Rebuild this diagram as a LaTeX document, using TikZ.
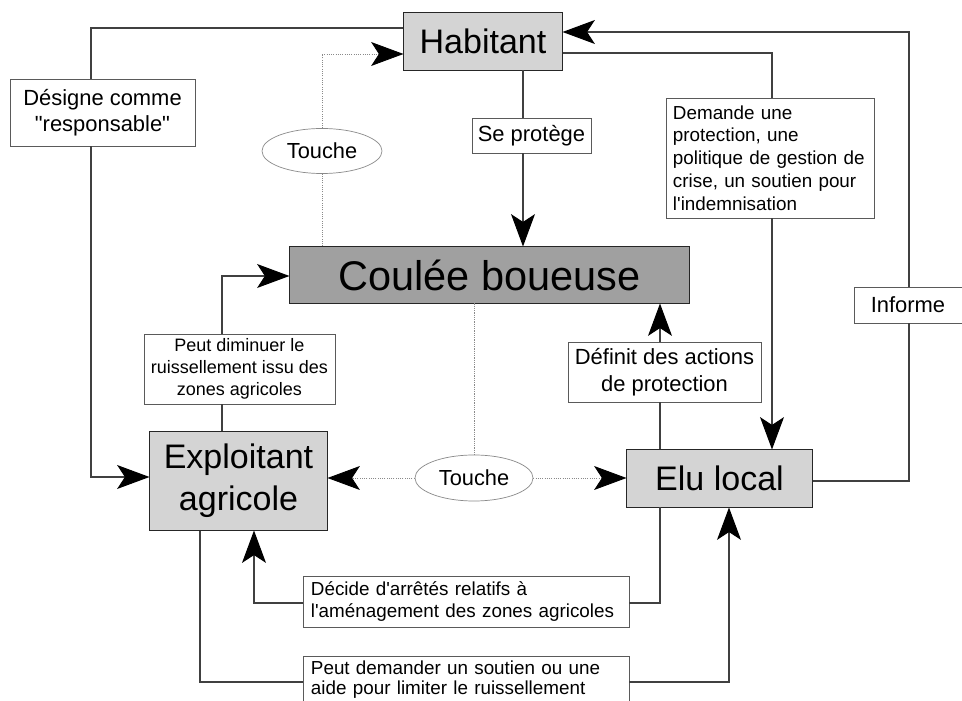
\documentclass[tikz,border=0pt]{standalone}
\usepackage{fontspec}
\newfontfamily\diagfont{Liberation Sans}
\usetikzlibrary{arrows.meta, shapes.geometric, positioning}
\definecolor{cActor}{HTML}{D4D4D4}
\definecolor{cHazard}{HTML}{A0A0A0}
\definecolor{cLine}{HTML}{404040}
\definecolor{cFrame}{HTML}{5A5A5A}
\definecolor{cDots}{HTML}{8A8A8A}
\tikzset{
  actor/.style={draw=black!85, fill=cActor, line width=0.7pt, inner sep=0pt,
    align=center, font=\diagfont\fontsize{24.2}{29.8}\selectfont},
  hazard/.style={actor, fill=cHazard, font=\diagfont\fontsize{29.5}{35}\selectfont},
  tagbox/.style={draw=cFrame, fill=white, line width=0.6pt, inner sep=0pt,
    align=center, font=\diagfont\fontsize{15.6}{18.9}\selectfont},
  notebox/.style={tagbox, align=left, inner xsep=0.175cm,
    font=\diagfont\fontsize{13.4}{16.2}\selectfont},
  contact/.style={ellipse, draw=cDots, fill=white, line width=0.5pt, inner sep=0pt,
    font=\diagfont\fontsize{15.5}{18}\selectfont},
  link/.style={draw=cLine, line width=0.75pt},
  flow/.style={link, -{Stealth[length=23pt, width=17pt, inset=5.5pt, color=black]}},
  touchlink/.style={draw=cDots, line width=0.6pt, dash pattern=on 0.8pt off 0.8pt},
  touchflow/.style={touchlink, -{Stealth[length=23pt, width=17pt, inset=5.5pt, color=black]}},
}

\begin{document}
\begin{tikzpicture}[x=0.025cm, y=-0.025cm]

  \path[use as bounding box, fill=white] (0,0) rectangle (962,701);

  % ----------------------------------------------------------------
  % Actors and hazard
  % ----------------------------------------------------------------
  \node[actor, minimum width=3.95cm, minimum height=1.425cm] (hab) at (483,41.5) {Habitant};
  \node[hazard, minimum width=9.975cm, minimum height=1.4cm] (coulee) at (489.5,275) {Coulée boueuse};
  \node[actor, minimum width=4.425cm, minimum height=2.45cm] (expl) at (238.5,481) {Exploitant\\agricole};
  \node[actor, minimum width=4.625cm, minimum height=1.425cm] (elu) at (719.5,478.5) {Elu local};

  % ----------------------------------------------------------------
  % Relation labels
  % ----------------------------------------------------------------
  \node[tagbox, minimum width=4.625cm, minimum height=1.675cm] (designe) at (102.5,112.5)
    {Désigne comme\\"responsable"};
  \node[tagbox, minimum width=2.975cm, minimum height=0.875cm] (seprotege) at (531.5,135.5) {Se protège};
  \node[notebox, text width=4.85cm, minimum height=3cm] (demande) at (770,158)
    {Demande une\\protection, une\\politique de gestion de\\crise, un soutien pour\\l'indemnisation};
  \node[tagbox, minimum width=2.7cm, minimum height=0.9cm] (informe) at (908,305) {Informe};
  \node[tagbox, minimum width=4.825cm, minimum height=1.5cm] (definit) at (664.5,372)
    {Définit des actions\\de protection};
  \node[tagbox, minimum width=4.775cm, minimum height=1.75cm,
    font=\diagfont\fontsize{12.8}{15.4}\selectfont] (diminuer) at (239.5,369)
    {Peut diminuer le\\ruissellement issu des\\zones agricoles};
  \node[notebox, inner xsep=0.2cm, text width=7.75cm, minimum height=1.275cm] (decide) at (466,601.5)
    {Décide d'arrêtés relatifs à\\l'aménagement des zones agricoles};
  \node[notebox, inner xsep=0.2cm, inner ysep=3pt, text width=7.75cm, text depth=0.6cm,
    anchor=north, font=\diagfont\fontsize{13.4}{14.5}\selectfont] (demander) at (466,656)
    {Peut demander un soutien ou une\\aide pour limiter le ruissellement};

  \node[contact, minimum width=3cm, minimum height=1.125cm] (touche1) at (322,151) {Touche};
  \node[contact, minimum width=2.95cm, minimum height=1.15cm] (touche2) at (474,478) {Touche};

  % ----------------------------------------------------------------
  % Routing columns and rows
  % ----------------------------------------------------------------
  \coordinate (kDesigne) at (91,28);
  \coordinate (kTouche) at (322,54);
  \coordinate (kProtege) at (523,0);
  \coordinate (kDemande) at (772,53);
  \coordinate (kInforme) at (909,32);
  \coordinate (kDefinit) at (660,0);
  \coordinate (kDiminuer) at (222,276);
  \coordinate (kDecide) at (254,603);
  \coordinate (kSoutienL) at (200,682);
  \coordinate (kSoutienR) at (729,682);

  % ----------------------------------------------------------------
  % Connectors
  % ----------------------------------------------------------------
  \draw[link] (hab.west |- kDesigne) -| (designe.north -| kDesigne);
  \draw[flow] (designe.south -| kDesigne) |- (expl.west |- 0,477);

  \draw[touchlink] (coulee.north -| touche1) -- (touche1.south);
  \draw[touchflow] (touche1.north) |- (hab.west |- kTouche);

  \draw[link] (hab.south -| kProtege) -- (seprotege.north -| kProtege);
  \draw[flow] (seprotege.south -| kProtege) -- (coulee.north -| kProtege);

  \draw[link] (hab.east |- kDemande) -| (demande.north -| kDemande);
  \draw[flow] (demande.south -| kDemande) -- (elu.north -| kDemande);

  \draw[link] (elu.east |- 0,481) -| (informe.south -| kInforme);
  \draw[flow] (informe.north -| kInforme) |- (hab.east |- kInforme);

  \draw[link] (elu.north -| kDefinit) -- (definit.south -| kDefinit);
  \draw[flow] (definit.north -| kDefinit) -- (coulee.south -| kDefinit);

  \draw[link] (expl.north -| kDiminuer) -- (diminuer.south -| kDiminuer);
  \draw[flow] (diminuer.north -| kDiminuer) |- (coulee.west |- kDiminuer);

  \draw[touchlink] (coulee.south -| touche2) -- (touche2.north);
  \draw[touchflow] (touche2.west) -- (expl.east |- touche2);
  \draw[touchflow] (touche2.east) -- (elu.west |- touche2);

  \draw[link] (elu.south -| kDefinit) |- (decide.east |- kDecide);
  \draw[flow] (decide.west |- kDecide) -| (expl.south -| kDecide);

  \draw[link] (expl.south -| kSoutienL) |- (demander.west |- kSoutienL);
  \draw[flow] (demander.east |- kSoutienR) -| (elu.south -| kSoutienR);

\end{tikzpicture}
\end{document}
